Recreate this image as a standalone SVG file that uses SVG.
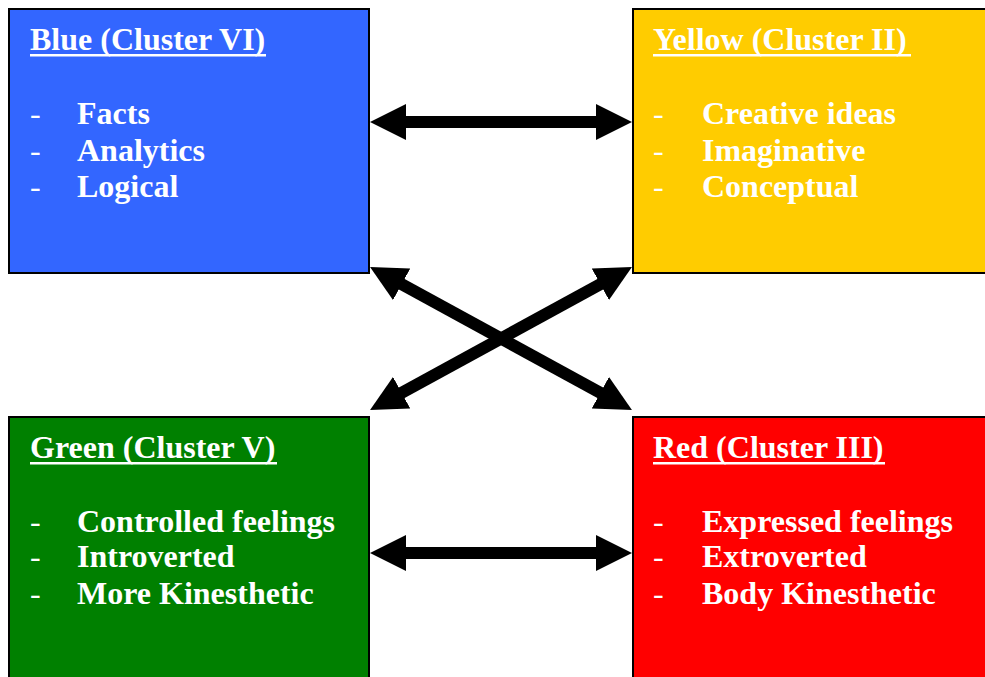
<svg xmlns="http://www.w3.org/2000/svg" width="985" height="677" viewBox="0 0 985 677">
  <style>
    .box { stroke: #000; stroke-width: 2; }
    .t { font-family: "Liberation Serif", "Times New Roman", serif; font-weight: bold; font-size: 32px; fill: #fff; }
    .dash { font-family: "Liberation Serif", "Times New Roman", serif; font-weight: normal; font-size: 32px; fill: #fff; }
    .ul { fill: #fff; }
    .conn { stroke: #000; stroke-width: 12; fill: none; marker-start: url(#head); marker-end: url(#head); }
  </style>
  <defs>
    <marker id="head" markerUnits="userSpaceOnUse" markerWidth="36" markerHeight="36" refX="16" refY="18" orient="auto-start-reverse" viewBox="0 0 36 36">
      <path d="M0,0 L36,18 L0,36 z" fill="#000"/>
    </marker>
  </defs>
  <rect width="985" height="677" fill="#fff"/>

  <g id="blue">
    <rect class="box" x="9" y="9" width="360" height="264" fill="#3366FF"/>
    <text class="t" x="30" y="50">Blue (Cluster VI)</text>
    <rect class="ul" x="30" y="54" width="236" height="2.5"/>
    <text class="dash" x="30" y="124">-</text><text class="t" x="77" y="124">Facts</text>
    <text class="dash" x="30" y="161">-</text><text class="t" x="77" y="161">Analytics</text>
    <text class="dash" x="30" y="197">-</text><text class="t" x="77" y="197">Logical</text>
  </g>

  <g id="yellow">
    <rect class="box" x="633" y="9" width="360" height="264" fill="#FFCC00"/>
    <text class="t" x="653" y="50">Yellow (Cluster II)</text>
    <rect class="ul" x="653" y="54" width="258" height="2.5"/>
    <text class="dash" x="653" y="124">-</text><text class="t" x="702" y="124">Creative ideas</text>
    <text class="dash" x="653" y="161">-</text><text class="t" x="702" y="161">Imaginative</text>
    <text class="dash" x="653" y="197">-</text><text class="t" x="702" y="197">Conceptual</text>
  </g>

  <g id="green">
    <rect class="box" x="9" y="417" width="360" height="270" fill="#008000"/>
    <text class="t" x="30" y="458">Green (Cluster V)</text>
    <rect class="ul" x="30" y="462" width="247" height="2.5"/>
    <text class="dash" x="30" y="532">-</text><text class="t" x="77" y="532">Controlled feelings</text>
    <text class="dash" x="30" y="567">-</text><text class="t" x="77" y="567">Introverted</text>
    <text class="dash" x="30" y="604">-</text><text class="t" x="77" y="604">More Kinesthetic</text>
  </g>

  <g id="red">
    <rect class="box" x="633" y="417" width="360" height="270" fill="#FF0000"/>
    <text class="t" x="653" y="458">Red (Cluster III)</text>
    <rect class="ul" x="653" y="462" width="232" height="2.5"/>
    <text class="dash" x="653" y="532">-</text><text class="t" x="702" y="532">Expressed feelings</text>
    <text class="dash" x="653" y="567">-</text><text class="t" x="702" y="567">Extroverted</text>
    <text class="dash" x="653" y="604">-</text><text class="t" x="702" y="604">Body Kinesthetic</text>
  </g>

  <g id="connectors">
    <line class="conn" x1="390" y1="122" x2="612" y2="122"/>
    <line class="conn" x1="390" y1="553" x2="612" y2="553"/>
    <line class="conn" x1="387.6" y1="276.6" x2="614.4" y2="400.4"/>
    <line class="conn" x1="614.4" y1="276.6" x2="387.6" y2="400.4"/>
  </g>
</svg>
